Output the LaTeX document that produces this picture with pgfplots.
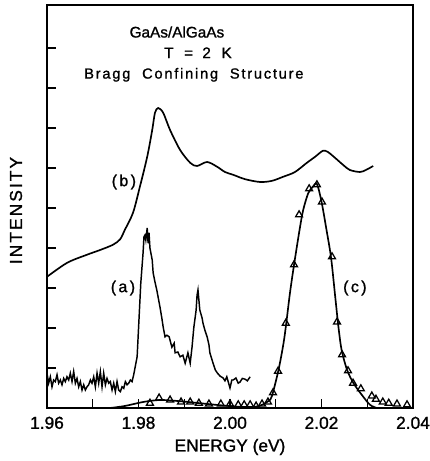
\documentclass[border=0pt]{standalone}
\usepackage{fontspec}
\setmainfont{Liberation Sans}[FakeBold=1.2]
\newfontfamily\wide{Liberation Sans}[LetterSpace=12,FakeBold=1.2]
\usepackage{pgfplots}
\pgfplotsset{compat=1.18}

\begin{document}
\begin{tikzpicture}
\begin{axis}[
    name=ax,
    scale only axis,
    width=274.5pt, height=302.25pt,
    xmin=1.96, xmax=2.04,
    ymin=0, ymax=10.075,
    xtick={1.96,1.98,2.00,2.02,2.04},
    xticklabels={1.96,1.98,2.00,2.02,2.04},
    minor xtick={1.97,1.99,2.01,2.03},
    ytick={1,2,3,4,5,6,7,8,9},
    yticklabels={},
    xtick pos=bottom, ytick pos=left,
    tick align=inside,
    major tick length=6.5pt, minor tick length=6.5pt,
    every tick/.style={black, line width=1pt},
    axis line style={line width=1.2pt},
    tick label style={font=\fontsize{13}{13}\selectfont},
    xticklabel style={yshift=-3pt},
    xlabel={ENERGY (eV)},
    ylabel={{\wide INTENSITY}},
    label style={font=\fontsize{13}{13}\selectfont},
    xlabel style={at={(axis description cs:0.5,0)}, anchor=north, yshift=-23pt, inner sep=0pt},
    ylabel style={at={(axis description cs:-0.0847,0.49)}, anchor=center, inner sep=0pt},
    clip=false,
]
% (b)
\addplot[black, line width=1.25pt, smooth] coordinates {
(1.9600,3.28) (1.9644,3.63) (1.9687,3.83) (1.9716,3.95) (1.9744,4.08)
(1.9760,4.22) (1.9770,4.45) (1.9788,4.88) (1.9803,5.53) (1.9819,6.28)
(1.9830,6.95) (1.9836,7.38) (1.9843,7.50) (1.9854,7.38) (1.9869,6.95)
(1.9891,6.45) (1.9913,6.13) (1.9928,6.05) (1.9950,6.15) (1.9972,6.03)
(1.9989,5.90) (2.0007,5.83) (2.0033,5.72) (2.0066,5.65) (2.0092,5.68)
(2.0116,5.78) (2.0142,5.90) (2.0168,6.13) (2.0186,6.28) (2.0203,6.43)
(2.0214,6.40) (2.0230,6.25) (2.0247,6.08) (2.0262,5.95) (2.0284,5.90)
(2.0297,5.95) (2.0313,6.05)
};
% (a)
\addplot[black, line width=1.1pt] coordinates {
(1.96000,0.87) (1.96036,0.62) (1.96073,0.78) (1.96109,0.53) (1.96146,0.70)
(1.96182,0.66) (1.96219,0.83) (1.96255,0.62) (1.96292,0.70) (1.96328,0.58)
(1.96365,0.74) (1.96401,0.66) (1.96437,0.78) (1.96474,0.70) (1.96510,0.87)
(1.96547,0.66) (1.96583,0.91) (1.96620,0.62) (1.96656,0.74) (1.96693,0.53)
(1.96729,0.66) (1.96766,0.45) (1.96802,0.58) (1.96838,0.45) (1.96875,0.53)
(1.96911,0.58) (1.96948,0.70) (1.96984,0.62) (1.97021,0.78) (1.97057,0.53)
(1.97094,0.87) (1.97130,0.62) (1.97166,0.91) (1.97203,0.53) (1.97239,0.87)
(1.97276,0.58) (1.97312,0.74) (1.97349,0.62) (1.97385,0.66) (1.97422,0.45)
(1.97458,0.62) (1.97494,0.41) (1.97531,0.66) (1.97567,0.45) (1.97604,0.41)
(1.97640,0.53) (1.97677,0.49) (1.97713,0.66) (1.97750,0.58) (1.97786,0.62)
(1.97822,0.70) (1.97859,0.66) (1.97895,0.83)
(1.9797,1.28) (1.9801,2.20) (1.9805,3.12) (1.9810,3.88) (1.9812,4.28)
(1.9814,4.32) (1.9816,4.20) (1.9819,4.50) (1.9821,4.12) (1.9823,4.38)
(1.9825,4.00) (1.9830,3.70) (1.9832,3.38) (1.9836,3.15) (1.9840,2.95)
(1.9847,2.52) (1.9851,2.25) (1.9854,2.02) (1.9858,1.78) (1.9862,1.82)
(1.9867,1.78) (1.9873,1.52) (1.9878,1.62) (1.9880,1.38) (1.9886,1.40)
(1.9891,1.28) (1.9897,1.32) (1.9902,1.12) (1.9908,1.38) (1.9913,1.12)
(1.9917,1.52) (1.9921,2.02) (1.9926,2.45) (1.9928,2.82) (1.9930,2.95)
(1.9932,2.70) (1.9934,2.45) (1.9939,2.25) (1.9941,2.12) (1.9945,1.95)
(1.9950,1.78) (1.9954,1.58) (1.9956,1.38) (1.9963,1.12) (1.9968,0.95)
(1.9972,0.88) (1.9978,0.80) (1.9985,0.75) (1.9989,0.68) (1.9993,0.78)
(1.9997,0.62) (2.0000,0.50) (2.0004,0.70) (2.0007,0.70) (2.0013,0.75)
(2.0018,0.62) (2.0022,0.65) (2.0027,0.74) (2.0033,0.72) (2.0038,0.68)
(2.0044,0.78)
};
% (c) fit
\addplot[black, line width=1.25pt, smooth] coordinates {
(1.9738,0.00) (1.9770,0.05) (1.9810,0.15) (1.9847,0.20) (1.9891,0.17)
(1.9934,0.12) (1.9978,0.07) (2.0022,0.03) (2.0055,0.03) (2.0070,0.08)
(2.0081,0.15) (2.0091,0.28) (2.0106,0.95) (2.0117,1.62) (2.0123,2.12)
(2.0131,2.87) (2.0140,3.58) (2.0152,4.45) (2.0160,4.95) (2.0171,5.37)
(2.0181,5.53) (2.0190,5.60) (2.0200,5.16) (2.0211,4.45) (2.0221,3.75)
(2.0230,2.78) (2.0237,2.03) (2.0244,1.45) (2.0256,0.95) (2.0270,0.62)
(2.0288,0.33) (2.0306,0.08) (2.0321,0.00)
};
% (c) data
\addplot[only marks, mark=triangle, mark size=3pt,
    mark options={black, fill=white, line width=0.95pt}] coordinates {
(1.9825,0.12) (1.9845,0.25) (1.9869,0.20) (1.9893,0.15) (1.9913,0.15)
(1.9932,0.12) (1.9954,0.10) (1.9980,0.10) (2.0000,0.10) (2.0018,0.08)
(2.0031,0.08) (2.0044,0.08) (2.0057,0.05) (2.0070,0.10) (2.0083,0.15)
(2.0094,0.38) (2.0105,0.92) (2.0122,2.12) (2.0140,3.58) (2.0151,4.83)
(2.0173,5.48) (2.0190,5.58) (2.0201,5.15) (2.0223,3.78) (2.0234,2.15)
(2.0245,1.33) (2.0258,0.93) (2.0269,0.62) (2.0286,0.48) (2.0310,0.30)
(2.0319,0.22) (2.0334,0.15) (2.0347,0.12) (2.0365,0.10) (2.0387,0.08)
};
\node[font=\fontsize{11.5}{12}\selectfont] at (axis cs:1.9884,9.40) {GaAs/AlGaAs};
\node[font=\fontsize{11.5}{12}\selectfont\wide] at (axis cs:1.9930,8.88) {T\hspace{0.3em} = \hspace{0.2em}2\hspace{0.3em} K};
\node[font=\fontsize{11}{12}\selectfont\wide] at (axis cs:1.9921,8.33) {Bragg\hspace{0.8em}Confining\hspace{0.8em}Structure};
\node[font=\fontsize{12}{12}\selectfont\wide] at (axis cs:1.9768,5.65) {(\hspace{0.15em}b\hspace{0.15em})};
\node[font=\fontsize{12}{12}\selectfont\wide] at (axis cs:1.9766,3.00) {(\hspace{0.15em}a\hspace{0.15em})};
\node[font=\fontsize{12}{12}\selectfont\wide] at (axis cs:2.0273,3.00) {(\hspace{0.15em}c\hspace{0.15em})};
\end{axis}
\pgfresetboundingbox
\path ([shift={(-35.25pt,-39.75pt)}]ax.south west) rectangle ([shift={(12.75pt,3.75pt)}]ax.north east);
\end{tikzpicture}
\end{document}
